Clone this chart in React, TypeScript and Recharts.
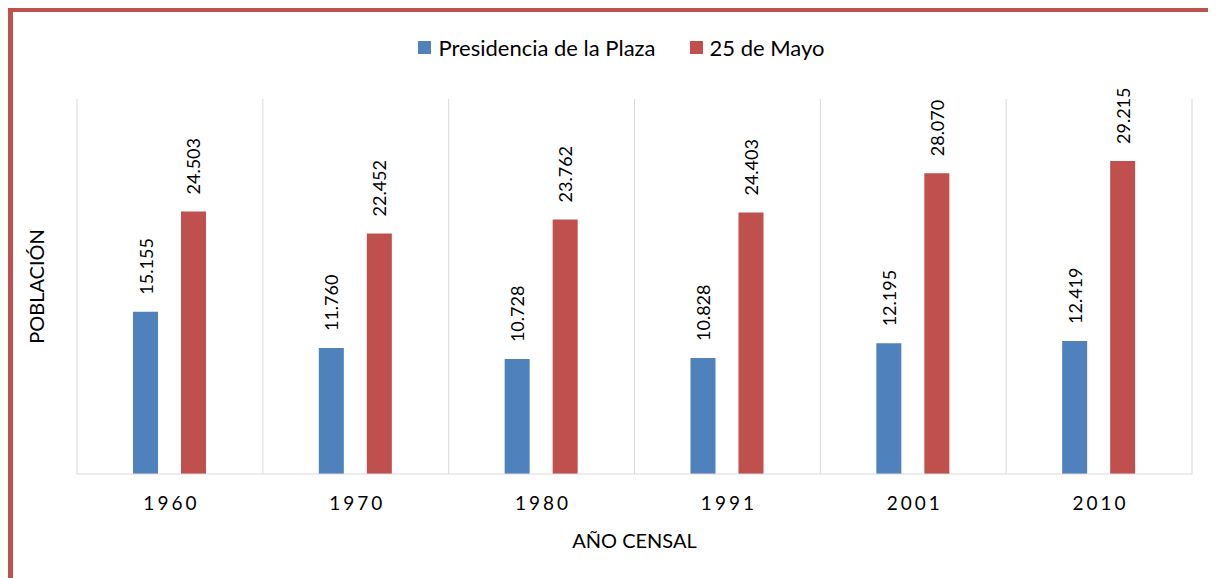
import React from 'react'
import { BarChart, Bar, XAxis, YAxis, CartesianGrid, Legend, LabelList, Label } from 'recharts'

const years = ['1960', '1970', '1980', '1991', '2001', '2010']
const presidencia = [15155, 11760, 10728, 10828, 12195, 12419]
const mayo = [24503, 22452, 23762, 24403, 28070, 29215]
const seriesNames = ['Presidencia de la Plaza', '25 de Mayo']

const BLUE = '#4f81bd'
const RED = '#c0504d'
const FONT = 'Lato, "Noto Sans", sans-serif'

const data = years.map((year, i) => ({
  year,
  presidencia: presidencia[i],
  mayo: mayo[i],
}))

// 15155 -> "15.155"
const fmt = (v: number) => String(v).replace(/\B(?=(\d{3})+(?!\d))/g, '.')

const ValueLabel = (props: any) => {
  const { x, y, width, value } = props
  const cx = x + width / 2
  const cy = y - 17
  return (
    <text
      x={cx}
      y={cy}
      transform={`rotate(-90 ${cx} ${cy})`}
      textAnchor="start"
      dominantBaseline="central"
      fontFamily={FONT}
      fontSize={18}
      fill="#000"
    >
      {fmt(value)}
    </text>
  )
}

const YearTick = (props: any) => {
  const { x, y, payload } = props
  return (
    <text
      x={x + 1.5}
      y={y + 20}
      textAnchor="middle"
      dominantBaseline="central"
      fontFamily={FONT}
      fontSize={19}
      letterSpacing={3}
      fill="#000"
    >
      {payload.value}
    </text>
  )
}

const LegendContent = (props: any) => {
  // keep the series order of the reference, whatever order recharts hands over
  const items = [...(props.payload || [])].sort(
    (a: any, b: any) => seriesNames.indexOf(a.value) - seriesNames.indexOf(b.value)
  )
  return (
    <div style={{ display: 'flex', justifyContent: 'center', alignItems: 'center', height: 30, fontFamily: FONT, fontSize: 22, color: '#000', paddingLeft: 38 }}>
      {items.map((item: any, i: number) => (
        <div key={item.value} style={{ display: 'flex', alignItems: 'center', marginLeft: i > 0 ? 34 : 0 }}>
          <span style={{ width: 13, height: 13, background: item.color, marginRight: 7, display: 'inline-block' }} />
          <span>{item.value}</span>
        </div>
      ))}
    </div>
  )
}

export default function App() {
  return (
    <div
      style={{
        width: 1208,
        height: 570,
        boxSizing: 'border-box',
        borderLeft: `5px solid ${RED}`,
        borderTop: `4px solid ${RED}`,
        background: '#fff',
      }}
    >
      <BarChart
        width={1203}
        height={566}
        data={data}
        margin={{ top: 57, right: 24, left: 0, bottom: 0 }}
        barSize={25}
        barGap={23}
      >
        <CartesianGrid
          horizontal={false}
          stroke="#d9d9d9"
          verticalCoordinatesGenerator={({ offset }: any) =>
            years.concat('').map((_, i) => offset.left + (i * offset.width) / years.length)
          }
        />
        <XAxis
          dataKey="year"
          height={104}
          axisLine={{ stroke: '#d9d9d9' }}
          tickLine={false}
          tick={<YearTick />}
          interval={0}
        >
          <Label
            content={({ viewBox }: any) => (
              <text
                x={viewBox.x + viewBox.width / 2}
                y={viewBox.y + 66}
                textAnchor="middle"
                dominantBaseline="central"
                fontFamily={FONT}
                fontSize={20}
                fill="#000"
              >
                AÑO CENSAL
              </text>
            )}
          />
        </XAxis>
        <YAxis width={64} domain={[0, 35000]} tick={false} axisLine={false} tickLine={false}>
          <Label
            content={({ viewBox }: any) => {
              const cx = viewBox.x + 23
              const cy = viewBox.y + viewBox.height / 2
              return (
                <text
                  x={cx}
                  y={cy}
                  transform={`rotate(-90 ${cx} ${cy})`}
                  textAnchor="middle"
                  dominantBaseline="central"
                  fontFamily={FONT}
                  fontSize={20}
                  fill="#000"
                >
                  POBLACIÓN
                </text>
              )
            }}
          />
        </YAxis>
        <Legend verticalAlign="top" height={30} wrapperStyle={{ top: 20 }} content={<LegendContent />} />
        <Bar dataKey="presidencia" name={seriesNames[0]} fill={BLUE} isAnimationActive={false}>
          <LabelList dataKey="presidencia" content={<ValueLabel />} />
        </Bar>
        <Bar dataKey="mayo" name={seriesNames[1]} fill={RED} isAnimationActive={false}>
          <LabelList dataKey="mayo" content={<ValueLabel />} />
        </Bar>
      </BarChart>
    </div>
  )
}
